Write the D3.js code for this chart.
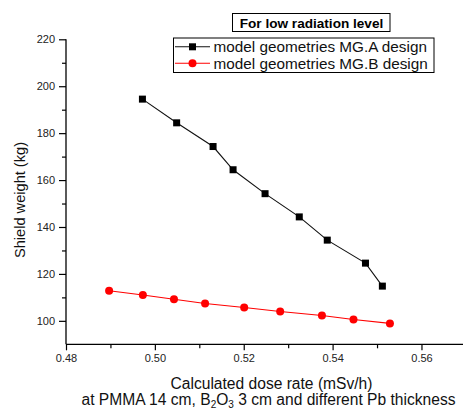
<!DOCTYPE html>
<html><head><meta charset="utf-8">
<script src="https://cdn.jsdelivr.net/npm/d3@7"></script>
<style>body{margin:0;background:#fff}svg{font-family:Arial,"Liberation Sans",sans-serif}</style>
</head><body><svg id="c" width="463" height="410"></svg>
<script>
const doseA = [0.4972,0.5049,0.5131,0.5176,0.5248,0.5325,0.5388,0.5474,0.5512];
const weightA = [194.5,184.4,174.3,164.4,154.2,144.3,134.4,124.6,114.8];
const doseB = [0.4897,0.4973,0.5043,0.5113,0.5201,0.5282,0.5376,0.5447,0.5529];
const weightB = [112.8,111.0,109.2,107.4,105.7,104.0,102.3,100.6,98.9];
const xTicks = [0.48,0.50,0.52,0.54,0.56];
const yTicks = [100,120,140,160,180,200,220];
const seriesNames = ["model geometries MG.A design","model geometries MG.B design"];

const svg = d3.select("#c");
const x = d3.scaleLinear().domain([0.48,0.57]).range([66,465.9]);
const y = d3.scaleLinear().domain([90,220]).range([344.3,39.3]);

// axes
const xAxis = d3.axisBottom(x).tickValues(xTicks).tickFormat(d3.format(".2f")).tickSize(6).tickPadding(4);
const gx = svg.append("g").attr("transform","translate(0,344.3)").call(xAxis);
gx.select(".domain").attr("stroke","#000").attr("stroke-width",1.3).attr("d","M66,0H463");
gx.selectAll("text").attr("font-size",11).attr("fill","#222");
gx.selectAll(".tick line").attr("stroke-width",1.2);
svg.append("g").attr("transform","translate(0,344.3)").call(d3.axisBottom(x).tickValues([0.49,0.51,0.53,0.55,0.57]).tickFormat("").tickSize(4))
  .call(g=>g.select(".domain").remove()).selectAll("line").attr("stroke-width",1.2);

const yAxis = d3.axisLeft(y).tickValues(yTicks).tickSize(7).tickPadding(4);
const gy = svg.append("g").attr("transform","translate(66,0)").call(yAxis);
gy.select(".domain").attr("stroke","#000").attr("stroke-width",1.3).attr("d","M0,344.3V39.3");
gy.selectAll("text").attr("font-size",11).attr("fill","#222");
gy.selectAll(".tick line").attr("stroke-width",1.2);
svg.append("g").attr("transform","translate(66,0)").call(d3.axisLeft(y).tickValues([110,130,150,170,190,210]).tickFormat("").tickSize(4))
  .call(g=>g.select(".domain").remove()).selectAll("line").attr("stroke-width",1.2);

// series
const line = d3.line().x(d=>x(d[0])).y(d=>y(d[1]));
const A = doseA.map((d,i)=>[d,weightA[i]]);
const B = doseB.map((d,i)=>[d,weightB[i]]);
svg.append("path").attr("d",line(A)).attr("fill","none").attr("stroke","#111").attr("stroke-width",1.1);
svg.append("path").attr("d",line(B)).attr("fill","none").attr("stroke","#f00").attr("stroke-width",1.1);
svg.selectAll(".sq").data(A).enter().append("rect")
  .attr("x",d=>x(d[0])-3.5).attr("y",d=>y(d[1])-3.5).attr("width",7).attr("height",7).attr("fill","#000");
svg.selectAll(".ci").data(B).enter().append("circle")
  .attr("cx",d=>x(d[0])).attr("cy",d=>y(d[1])).attr("r",4).attr("fill","#f00");

// title box
svg.append("rect").attr("x",232.5).attr("y",13.5).attr("width",157.5).attr("height",18).attr("fill","#fff").attr("stroke","#000").attr("stroke-width",1);
svg.append("text").attr("x",311.5).attr("y",27.5).attr("text-anchor","middle").attr("font-size",13.6).attr("font-weight","bold").text("For low radiation level");

// legend
svg.append("rect").attr("x",173.5).attr("y",38).attr("width",260.5).attr("height",34.5).attr("fill","#fff").attr("stroke","#000").attr("stroke-width",1);
const ly = [46.8,63.3];
svg.append("line").attr("x1",175).attr("x2",210).attr("y1",ly[0]).attr("y2",ly[0]).attr("stroke","#111").attr("stroke-width",1.1);
svg.append("rect").attr("x",192.5-3.5).attr("y",ly[0]-3.5).attr("width",7).attr("height",7).attr("fill","#000");
svg.append("line").attr("x1",175).attr("x2",210).attr("y1",ly[1]).attr("y2",ly[1]).attr("stroke","#f00").attr("stroke-width",1.1);
svg.append("circle").attr("cx",192.5).attr("cy",ly[1]).attr("r",4).attr("fill","#f00");
seriesNames.forEach((n,i)=>{
  svg.append("text").attr("x",213.5).attr("y",ly[i]+5.5).attr("font-size",15.3).attr("fill","#111").text(n);
});

// axis labels
svg.append("text").attr("transform","translate(25,200) rotate(-90)").attr("text-anchor","middle").attr("font-size",14.6).attr("fill","#111").text("Shield weight (kg)");
svg.append("text").attr("x",271.5).attr("y",389).attr("text-anchor","middle").attr("font-size",15.6).attr("fill","#111").text("Calculated dose rate (mSv/h)");
const t2 = svg.append("text").attr("x",268.5).attr("y",405).attr("text-anchor","middle").attr("font-size",15.6).attr("fill","#111");
t2.append("tspan").text("at PMMA 14 cm, B");
t2.append("tspan").attr("font-size",10).attr("dy",3).text("2");
t2.append("tspan").attr("dy",-3).text("O");
t2.append("tspan").attr("font-size",10).attr("dy",3).text("3");
t2.append("tspan").attr("dy",-3).text(" 3 cm and different Pb thickness");
</script></body></html>
